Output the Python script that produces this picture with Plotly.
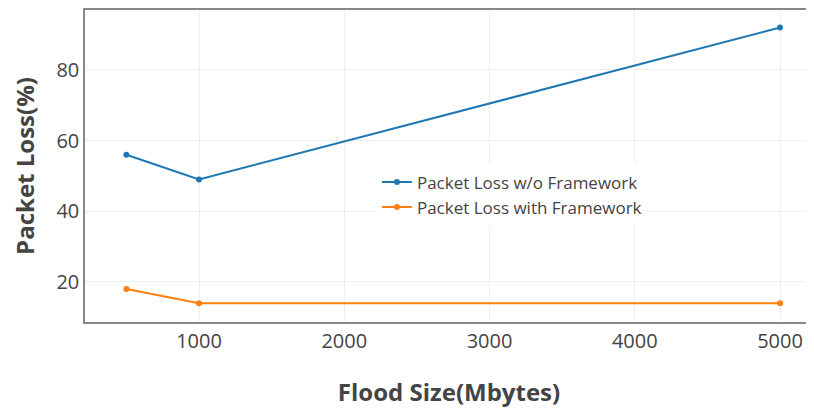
import plotly.graph_objects as go

flood_size = [500, 1000, 5000]
loss_without = [56, 49, 92]
loss_with = [18, 14, 14]
series_names = ["Packet Loss w/o Framework", "Packet Loss with Framework"]

fig = go.Figure()
fig.add_trace(go.Scatter(x=flood_size, y=loss_without, mode="lines+markers", name=series_names[0],
                         line=dict(color="#1f77b4", width=2), marker=dict(size=6)))
fig.add_trace(go.Scatter(x=flood_size, y=loss_with, mode="lines+markers", name=series_names[1],
                         line=dict(color="#ff7f0e", width=2), marker=dict(size=6)))

fig.update_layout(
    width=806, height=403,
    margin=dict(l=77, r=1, t=0, b=89),
    paper_bgcolor="white", plot_bgcolor="white",
    font=dict(family="Open Sans", color="#444"),
    legend=dict(x=0.401, y=0.505, xanchor="left", yanchor="top", bgcolor="white",
                font=dict(size=17, color="#444")),
    xaxis=dict(range=[215, 5227], tickvals=[1000, 2000, 3000, 4000, 5000],
               showgrid=True, gridcolor="#eee", zeroline=False,
               showline=True, linecolor="#888", linewidth=1.5, mirror=True,
               tickfont=dict(size=20),
               title=dict(text="<b>Flood Size(Mbytes)</b>", font=dict(size=24), standoff=31)),
    yaxis=dict(range=[8.67, 96.95], tickvals=[20, 40, 60, 80],
               showgrid=True, gridcolor="#eee", zeroline=False,
               showline=True, linecolor="#888", linewidth=1.5, mirror=False,
               tickfont=dict(size=20),
               title=dict(text="<b>Packet Loss(%)</b>", font=dict(size=24), standoff=22)),
)

fig.write_html("out.html")
